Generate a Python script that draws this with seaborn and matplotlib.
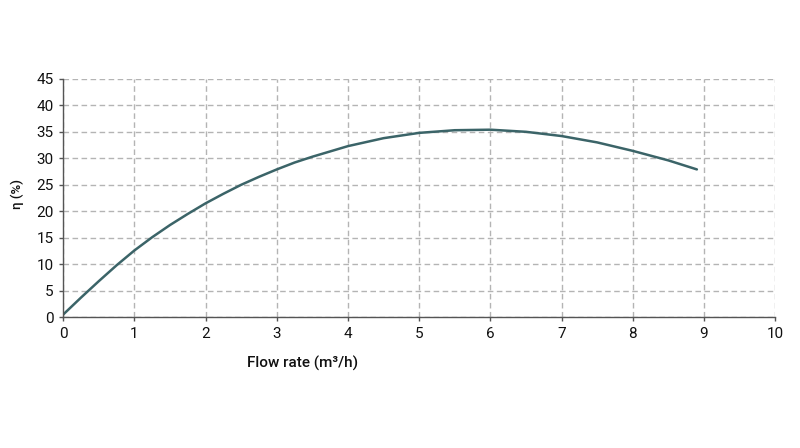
import pandas as pd
import matplotlib.pyplot as plt
import seaborn as sns

# data
flow_rate = [0, 0.25, 0.5, 0.75, 1, 1.25, 1.5, 1.75, 2, 2.25, 2.5, 2.75, 3, 3.25, 3.5, 3.75,
             4, 4.5, 5, 5.5, 6, 6.5, 7, 7.5, 8, 8.5, 8.9]
efficiency = [0.5, 3.7, 6.8, 9.8, 12.6, 15.1, 17.4, 19.5, 21.5, 23.3, 25.0, 26.5, 27.9, 29.2,
              30.3, 31.3, 32.3, 33.8, 34.8, 35.3, 35.4, 35.0, 34.2, 33.0, 31.4, 29.6, 27.9]
x_ticks = list(range(0, 11))
y_ticks = list(range(0, 50, 5))

df = pd.DataFrame({'flow': flow_rate, 'eta': efficiency})

sns.set_style("white")
plt.rcParams['font.family'] = ['Roboto', 'DejaVu Sans']

fig = plt.figure(figsize=(8, 4.48), dpi=100)
ax = fig.add_axes([0.079, 0.292, 0.89, 0.532])

sns.lineplot(data=df, x='flow', y='eta', color='#3b6468', linewidth=1.8, ax=ax)

ax.set_xlim(0, 10)
ax.set_ylim(0, 45)
ax.set_xticks(x_ticks)
ax.set_yticks(y_ticks)
ax.grid(True, linestyle=(0, (4, 2.5)), color='#b4b4b4', linewidth=1)
ax.set_axisbelow(True)

for side in ['top', 'right']:
    ax.spines[side].set_visible(False)
for side in ['left', 'bottom']:
    ax.spines[side].set_color('#555555')
    ax.spines[side].set_linewidth(1)

ax.tick_params(axis='both', direction='out', length=3, width=1, color='#555555',
               labelsize=11, labelcolor='#111111', left=True, bottom=True, pad=4)

ax.set_xlabel("Flow rate (m³/h)", fontsize=11, fontweight='medium', color='#111111')
ax.set_ylabel("η (%)", fontsize=9.5, fontweight='medium', color='#111111')
ax.xaxis.set_label_coords(0.336, -0.163)
ax.yaxis.set_label_coords(-0.055, 0.515)

fig.savefig('out.png', dpi=100)
